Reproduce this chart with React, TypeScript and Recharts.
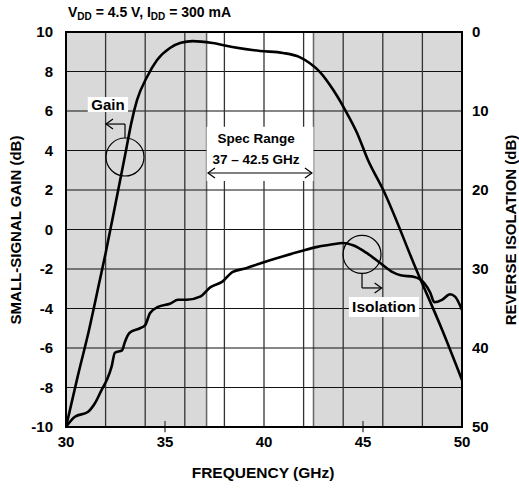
import React from 'react';
import { ComposedChart, Line, XAxis, YAxis, ReferenceArea, ReferenceLine, ReferenceDot } from 'recharts';

// Small-signal gain (left axis, dB)
const gainFreq = [30, 30.6, 31.16, 31.7, 32.0, 32.5, 33.03, 33.3, 33.59, 34.09, 34.6, 35.25, 35.8, 36.4, 37.4, 38.4, 39.8, 40.96, 41.8, 42.3, 42.83, 43.5, 44.1, 44.7, 45.25, 46.0, 47.7, 49.0, 50];
const gainDb = [-10, -7.4, -5.1, -2.6, -1.2, 1.3, 4.0, 5.4, 6.56, 7.72, 8.58, 9.19, 9.45, 9.54, 9.44, 9.24, 9.04, 8.94, 8.73, 8.43, 7.97, 7.06, 6.05, 4.89, 3.52, 2.05, -2.05, -5.09, -7.62];

// Reverse isolation (right axis, dB, reversed)
const isoFreq = [30, 30.45, 31.1, 31.46, 31.8, 32.07, 32.3, 32.47, 32.83, 32.98, 33.2, 33.74, 34.0, 34.24, 34.65, 35.25, 35.66, 36.1, 36.77, 37.3, 37.9, 38.4, 39.1, 39.8, 40.3, 41.8, 42.7, 43.4, 44.0, 44.5, 45.2, 45.9, 46.5, 46.9, 47.6, 48.1, 48.4, 48.6, 48.99, 49.4, 49.65, 50];
const isoDb = [50, 48.7, 48.1, 47.0, 45.3, 44.0, 42.4, 40.6, 40.3, 39.2, 38.1, 37.5, 37.1, 35.6, 34.8, 34.4, 33.9, 33.9, 33.5, 32.3, 31.6, 30.4, 29.9, 29.3, 28.9, 27.8, 27.2, 26.9, 26.7, 27.0, 28.0, 29.3, 30.4, 30.8, 31.0, 31.8, 33.0, 34.2, 33.9, 33.2, 33.5, 35.2];

const xTicks = [30, 35, 40, 45, 50];
const xGrid = [32, 34, 36, 38, 40, 42, 44, 46, 48];
const gainTicks = [-10, -8, -6, -4, -2, 0, 2, 4, 6, 8, 10];
const isoTicks = [0, 10, 20, 30, 40, 50];
const shadedBands: [number, number][] = [[30, 37.1], [42.5, 50]];
const specRange: [number, number] = [37.1, 42.5];

const gainData = gainFreq.map((f, i) => ({ f, v: gainDb[i] }));
const isoData = isoFreq.map((f, i) => ({ f, v: isoDb[i] }));

const FONT = '"Liberation Sans", Arial, Helvetica, sans-serif';
const tickStyle = { fill: '#000', fontSize: 15, fontWeight: 700, fontFamily: FONT };

const textShape = (text: string, size: number) => (p: any) => (
  <text x={p.cx} y={p.cy} textAnchor="middle" dominantBaseline="central" fontSize={size} fontWeight={700} fill="#000" fontFamily={FONT}>{text}</text>
);
const circleShape = (p: any) => <circle cx={p.cx} cy={p.cy} r={19} fill="none" stroke="#000" strokeWidth={1.2} />;
const arrowLeft = (p: any) => <path d={`M ${p.cx + 7} ${p.cy - 5} L ${p.cx} ${p.cy} L ${p.cx + 7} ${p.cy + 5}`} fill="none" stroke="#000" strokeWidth={1.2} />;
const arrowRight = (p: any) => <path d={`M ${p.cx - 7} ${p.cy - 5} L ${p.cx} ${p.cy} L ${p.cx - 7} ${p.cy + 5}`} fill="none" stroke="#000" strokeWidth={1.2} />;

export default function App() {
  return (
    <div style={{ position: 'absolute', left: 0, top: 0, width: 519, height: 489, fontFamily: FONT, background: '#fff' }}>
      <ComposedChart width={519} height={489} margin={{ top: 32, right: 7, bottom: 22, left: 6 }}>
        <XAxis dataKey="f" type="number" domain={[30, 50]} ticks={xTicks} axisLine={false} tickLine={false} tickSize={0} tickMargin={9} height={40} tick={tickStyle} allowDataOverflow />
        <YAxis yAxisId="left" type="number" domain={[-10, 10]} ticks={gainTicks} axisLine={false} tickLine={false} tickSize={0} tickMargin={13} width={60} tick={tickStyle} allowDataOverflow />
        <YAxis yAxisId="right" orientation="right" type="number" reversed domain={[0, 50]} ticks={isoTicks} axisLine={false} tickLine={false} tickSize={0} tickMargin={10} width={50} tick={{ ...tickStyle, textAnchor: 'start' }} allowDataOverflow />

        {shadedBands.map(([a, b]) => (
          <ReferenceArea key={`sh${a}`} yAxisId="left" x1={a} x2={b} y1={-10} y2={10} fill="#d9d9d9" fillOpacity={1} stroke="#666" strokeWidth={1.5} zIndex={100} />
        ))}
        {gainTicks.slice(1, -1).map((g) => (
          <ReferenceLine key={`h${g}`} yAxisId="left" y={g} stroke="#111" strokeWidth={1.2} zIndex={110} />
        ))}
        {xGrid.map((f) => (
          <ReferenceLine key={`v${f}`} yAxisId="left" x={f} stroke="#333" strokeWidth={1.3} zIndex={110} />
        ))}
        {xTicks.filter((t) => !xGrid.includes(t) && t !== 30 && t !== 50).map((t) => (
          <ReferenceLine key={`t${t}`} yAxisId="left" ifOverflow="visible" segment={[{ x: t, y: -10.27 }, { x: t, y: -9.7 }]} stroke="#555" strokeWidth={1.5} zIndex={110} />
        ))}

        {/* white label boxes */}
        <ReferenceArea yAxisId="left" x1={specRange[0]} x2={specRange[1]} y1={2.46} y2={5.2} fill="#fff" fillOpacity={1} stroke="none" zIndex={120} />
        <ReferenceArea yAxisId="left" x1={31.1} x2={33.13} y1={5.95} y2={6.71} fill="#fff" fillOpacity={1} stroke="none" zIndex={120} />
        <ReferenceArea yAxisId="left" x1={44.29} x2={47.83} y1={-4.43} y2={-3.42} fill="#fff" fillOpacity={1} stroke="none" zIndex={120} />

        {/* plot border */}
        <ReferenceArea yAxisId="left" x1={30} x2={50} y1={-10} y2={10} fill="none" stroke="#000" strokeWidth={2} zIndex={130} />

        {/* Spec range annotation */}
        <ReferenceLine yAxisId="left" segment={[{ x: 37.17, y: 2.86 }, { x: 42.42, y: 2.86 }]} stroke="#000" strokeWidth={1.2} zIndex={140} />
        <ReferenceDot yAxisId="left" x={37.17} y={2.86} shape={arrowLeft} zIndex={140} />
        <ReferenceDot yAxisId="left" x={42.42} y={2.86} shape={arrowRight} zIndex={140} />
        <ReferenceDot yAxisId="left" x={39.6} y={4.6} shape={textShape('Spec Range', 13.5)} zIndex={140} />
        <ReferenceDot yAxisId="left" x={39.6} y={3.55} shape={textShape('37 – 42.5 GHz', 13.5)} zIndex={140} />

        {/* Gain annotation */}
        <ReferenceDot yAxisId="left" x={32.12} y={6.33} shape={textShape('Gain', 15)} zIndex={140} />
        <ReferenceDot yAxisId="left" x={32.98} y={3.67} shape={circleShape} zIndex={140} />
        <ReferenceLine yAxisId="left" segment={[{ x: 32.98, y: 4.63 }, { x: 32.98, y: 5.34 }]} stroke="#000" strokeWidth={1.2} zIndex={140} />
        <ReferenceLine yAxisId="left" segment={[{ x: 32.02, y: 5.34 }, { x: 32.98, y: 5.34 }]} stroke="#000" strokeWidth={1.2} zIndex={140} />
        <ReferenceDot yAxisId="left" x={32.02} y={5.34} shape={arrowLeft} zIndex={140} />

        {/* Isolation annotation */}
        <ReferenceDot yAxisId="left" x={46.06} y={-3.92} shape={textShape('Isolation', 15.5)} zIndex={140} />
        <ReferenceDot yAxisId="right" x={44.95} y={28.16} shape={circleShape} zIndex={140} />
        <ReferenceLine yAxisId="right" segment={[{ x: 44.95, y: 30.6 }, { x: 44.95, y: 32.4 }]} stroke="#000" strokeWidth={1.2} zIndex={140} />
        <ReferenceLine yAxisId="right" segment={[{ x: 44.95, y: 32.4 }, { x: 45.94, y: 32.4 }]} stroke="#000" strokeWidth={1.2} zIndex={140} />
        <ReferenceDot yAxisId="right" x={45.94} y={32.4} shape={arrowRight} zIndex={140} />

        <Line yAxisId="left" data={gainData} dataKey="v" type="monotone" stroke="#000" strokeWidth={2.6} dot={false} activeDot={false} isAnimationActive={false} />
        <Line yAxisId="right" data={isoData} dataKey="v" type="monotone" stroke="#000" strokeWidth={2.6} dot={false} activeDot={false} isAnimationActive={false} />
      </ComposedChart>

      <div style={{ position: 'absolute', left: 68, top: 4, fontSize: 14, fontWeight: 700, whiteSpace: 'nowrap', color: '#000' }}>
        V<span style={{ fontSize: 10, position: 'relative', top: 3 }}>DD</span> = 4.5 V, I<span style={{ fontSize: 10, position: 'relative', top: 3 }}>DD</span> = 300 mA
      </div>
      <div style={{ position: 'absolute', left: 15, top: 230, transform: 'translate(-50%, -50%) rotate(-90deg)', fontSize: 15, fontWeight: 700, whiteSpace: 'nowrap', color: '#000' }}>
        SMALL-SIGNAL GAIN (dB)
      </div>
      <div style={{ position: 'absolute', left: 510, top: 230, transform: 'translate(-50%, -50%) rotate(-90deg)', fontSize: 15, fontWeight: 700, whiteSpace: 'nowrap', color: '#000' }}>
        REVERSE ISOLATION (dB)
      </div>
      <div style={{ position: 'absolute', left: 263, top: 473, transform: 'translate(-50%, -50%)', fontSize: 15.5, fontWeight: 700, whiteSpace: 'nowrap', color: '#000' }}>
        FREQUENCY (GHz)
      </div>
    </div>
  );
}
